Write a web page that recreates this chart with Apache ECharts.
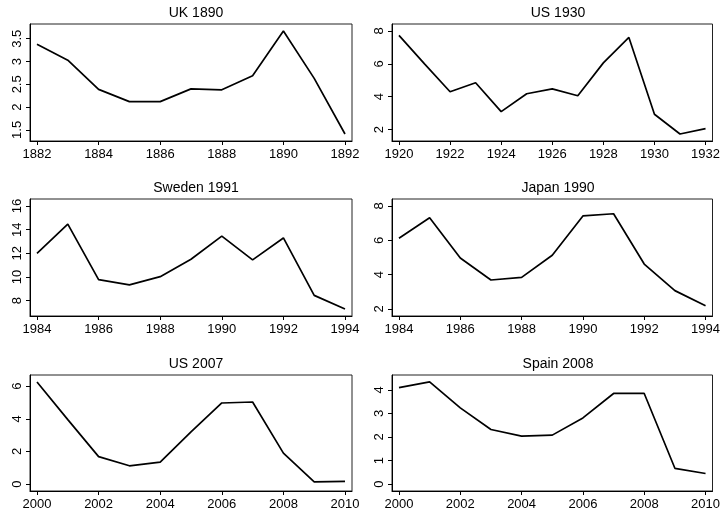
<!DOCTYPE html>
<html>
<head>
<meta charset="utf-8">
<script src="https://cdn.jsdelivr.net/npm/echarts@6/dist/echarts.min.js"></script>
<style>
html,body{margin:0;padding:0;background:#fff;}
#chart{width:723px;height:511px;}
</style>
</head>
<body>
<div id="chart"></div>
<script>
// ---- data ----
const titles = ["UK 1890", "US 1930", "Sweden 1991", "Japan 1990", "US 2007", "Spain 2008"];

const ukYears = [1882,1883,1884,1885,1886,1887,1888,1889,1890,1891,1892];
const ukValues = [3.38,3.03,2.39,2.12,2.12,2.40,2.38,2.69,3.67,2.63,1.41];

const us1930Years = [1920,1921,1922,1923,1924,1925,1926,1927,1928,1929,1930,1931,1932];
const us1930Values = [7.73,6.0,4.30,4.85,3.09,4.18,4.48,4.06,6.06,7.61,2.93,1.73,2.06];

const swedenYears = [1984,1985,1986,1987,1988,1989,1990,1991,1992,1993,1994];
const swedenValues = [12.0,14.47,9.78,9.34,10.03,11.5,13.45,11.45,13.3,8.45,7.3];

const japanYears = [1984,1985,1986,1987,1988,1989,1990,1991,1992,1993,1994];
const japanValues = [6.12,7.32,4.97,3.69,3.84,5.13,7.42,7.55,4.62,3.07,2.19];

const us2007Years = [2000,2001,2002,2003,2004,2005,2006,2007,2008,2009,2010];
const us2007Values = [6.26,3.95,1.68,1.12,1.34,3.2,4.97,5.03,1.90,0.14,0.16];

const spainYears = [2000,2001,2002,2003,2004,2005,2006,2007,2008,2009,2010];
const spainValues = [4.10,4.34,3.24,2.32,2.04,2.08,2.81,3.85,3.85,0.67,0.45];

const xTicks = [
  [1882,1884,1886,1888,1890,1892],
  [1920,1922,1924,1926,1928,1930,1932],
  [1984,1986,1988,1990,1992,1994],
  [1984,1986,1988,1990,1992,1994],
  [2000,2002,2004,2006,2008,2010],
  [2000,2002,2004,2006,2008,2010]
];
const yTicks = [
  [1.5,2,2.5,3,3.5],
  [2,4,6,8],
  [8,10,12,14,16],
  [2,4,6,8],
  [0,2,4,6],
  [0,1,2,3,4]
];

const panelsX = [ukYears, us1930Years, swedenYears, japanYears, us2007Years, spainYears];
const panelsY = [ukValues, us1930Values, swedenValues, japanValues, us2007Values, spainValues];

// ---- layout ----
const boxLeft = [30, 392];
const boxWidth = [322, 322];
const boxTop = [24, 199, 375];
const boxHeight = 117;
const inset = 7;
const FONT = "Liberation Sans, Arial, Helvetica, sans-serif";

const grids = [], xAxes = [], yAxes = [], series = [], titleList = [];

function range(vals, ticks, sizePx) {
  let lo = Math.min(Math.min(...vals), Math.min(...ticks));
  let hi = Math.max(Math.max(...vals), Math.max(...ticks));
  const pad = (hi - lo) * inset / (sizePx - 2 * inset);
  return [lo - pad, hi + pad];
}

for (let i = 0; i < 6; i++) {
  const col = i % 2, row = Math.floor(i / 2);
  const L = boxLeft[col], W = boxWidth[col], T = boxTop[row];
  grids.push({
    left: L, top: T, width: W, height: boxHeight,
    show: true, borderColor: '#222', borderWidth: 1, backgroundColor: 'transparent',
    containLabel: false
  });
  titleList.push({
    text: titles[i],
    left: L + W / 2, top: T - 23, textAlign: 'center',
    textStyle: { fontFamily: FONT, fontSize: 14, fontWeight: 'normal', color: '#000' }
  });
  const xr = range(panelsX[i], xTicks[i], W);
  const yr = range(panelsY[i], yTicks[i], boxHeight);
  xAxes.push({
    type: 'value', gridIndex: i, min: xr[0], max: xr[1],
    axisLine: { show: true, onZero: false, lineStyle: { color: '#000', width: 1 } },
    axisTick: { show: true, length: 4, lineStyle: { color: '#000' }, customValues: xTicks[i] },
    axisLabel: { customValues: xTicks[i], color: '#000', fontFamily: FONT, fontSize: 13, margin: 7,
                 formatter: v => String(v), hideOverlap: false },
    splitLine: { show: false }
  });
  yAxes.push({
    type: 'value', gridIndex: i, min: yr[0], max: yr[1],
    axisLine: { show: true, onZero: false, lineStyle: { color: '#000', width: 1 } },
    axisTick: { show: true, length: 4, lineStyle: { color: '#000' }, customValues: yTicks[i] },
    axisLabel: { customValues: yTicks[i], color: '#000', fontFamily: FONT, fontSize: 13, margin: 6,
                 rotate: 90, formatter: v => String(v) },
    splitLine: { show: false }
  });
  series.push({
    type: 'line', xAxisIndex: i, yAxisIndex: i,
    data: panelsX[i].map((x, k) => [x, panelsY[i][k]]),
    symbol: 'none', silent: true,
    lineStyle: { color: '#000', width: 1.7 },
    animation: false
  });
}

const chart = echarts.init(document.getElementById('chart'), null, { renderer: 'canvas' });
chart.setOption({
  backgroundColor: '#fff',
  animation: false,
  title: titleList,
  grid: grids,
  xAxis: xAxes,
  yAxis: yAxes,
  series: series
});
</script>
</body>
</html>
